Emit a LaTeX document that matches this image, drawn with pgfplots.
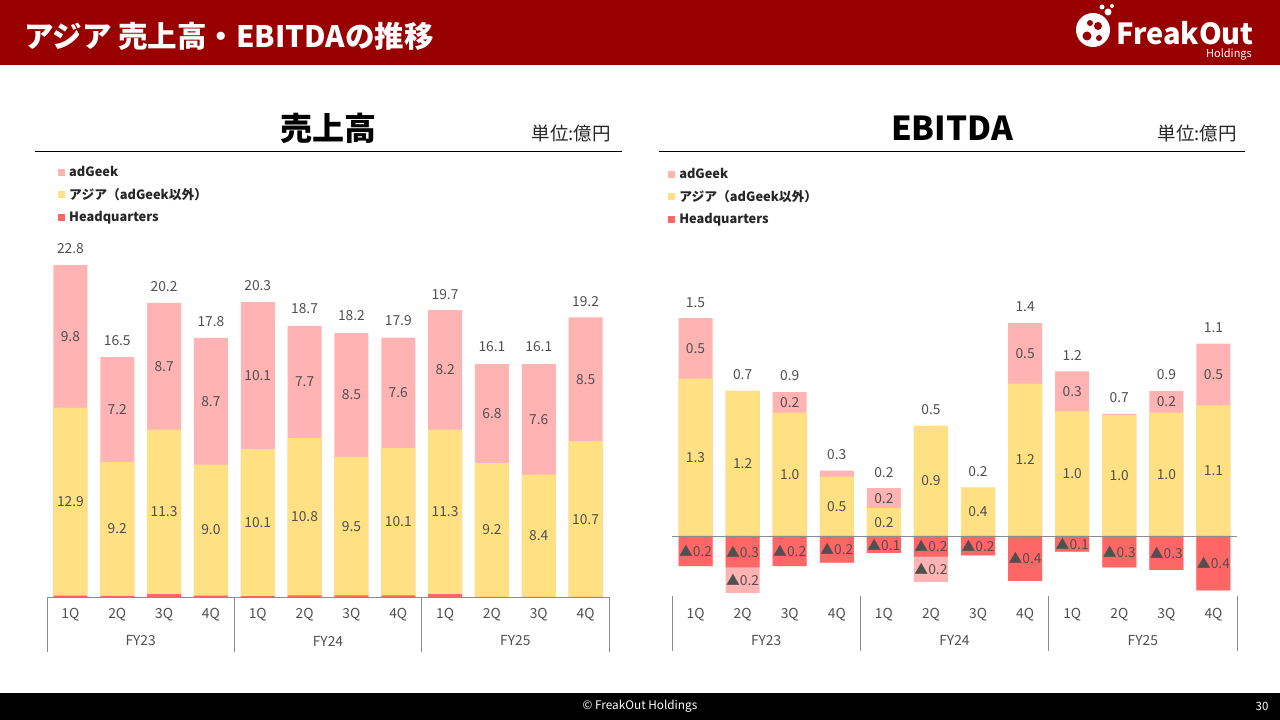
\documentclass[border=0pt]{standalone}
\usepackage{pgfplots}
\pgfplotsset{compat=1.18}
\usepackage{pgfplotstable}
\usepackage{fontspec}
\setmainfont{Noto Sans CJK JP}
\definecolor{hdr}{HTML}{990000}
\definecolor{cpink}{HTML}{FFB3B3}
\definecolor{cyel}{HTML}{FFE083}
\definecolor{cred}{HTML}{FF6666}
\definecolor{lbl}{HTML}{505050}
\definecolor{axg}{HTML}{8C8C8C}
\definecolor{lgt}{HTML}{262626}
\newcommand\lblfont{\fontsize{13.8}{16}\selectfont}

\pgfplotstableread[col sep=comma]{
x,hq,asia,adg,tot
0,0.10,12.9,9.8,22.8
1,0.08,9.2,7.2,16.5
2,0.20,11.3,8.7,20.2
3,0.10,9.0,8.7,17.8
4,0.06,10.1,10.1,20.3
5,0.12,10.8,7.7,18.7
6,0.12,9.5,8.5,18.2
7,0.12,10.1,7.6,17.9
8,0.20,11.3,8.2,19.7
9,0.00,9.2,6.8,16.1
10,0.00,8.4,7.6,16.1
11,0.00,10.7,8.5,19.2
}\sales

\pgfplotstableread[col sep=comma]{
x,asia,adg,hq,asiaL,adgL,hqL,totL
0,1.30,0.50,-0.25,1.3,0.5,▲0.2,1.5
1,1.20,-0.21,-0.26,1.2,▲0.2,▲0.3,0.7
2,1.02,0.17,-0.25,1.0,0.2,▲0.2,0.9
3,0.49,0.05,-0.22,0.5,,▲0.2,0.3
4,0.23,0.165,-0.14,0.2,0.2,▲0.1,0.2
5,0.91,-0.21,-0.17,0.9,▲0.2,▲0.2,0.5
6,0.40,0.00,-0.16,0.4,,▲0.2,0.2
7,1.26,0.50,-0.37,1.2,0.5,▲0.4,1.4
8,1.03,0.33,-0.13,1.0,0.3,▲0.1,1.2
9,1.00,0.01,-0.26,1.0,,▲0.3,0.7
10,1.02,0.18,-0.28,1.0,0.2,▲0.3,0.9
11,1.08,0.51,-0.45,1.1,0.5,▲0.4,1.1
}\ebitda

\pgfplotsset{
  segbar/.style={ybar, bar width=34pt, bar shift=0pt, draw=none, fill=#1,
    legend image code/.code={\fill[#1] (0pt,-3.5pt) rectangle (7pt,3.5pt);}},
  seglbl/.style={draw=none, mark=none, nodes near coords, point meta=explicit symbolic,
    every node near coord/.append style={anchor=center, font=\lblfont, text=lbl, inner sep=0pt}},
  chartbase/.style={
    scale only axis, clip=false,
    xmin=-0.5, xmax=11.5,
    axis line style={draw=none}, ytick=\empty,
    xtick={0,...,11},
    xticklabels={1Q,2Q,3Q,4Q,1Q,2Q,3Q,4Q,1Q,2Q,3Q,4Q},
    major tick length=0pt,
    xticklabel style={font=\lblfont, text=lbl, anchor=center, yshift=-18pt},
    legend cell align=left,
    legend style={draw=none, fill=none, anchor=north west,
      font=\bfseries\fontsize{12.8}{14}\selectfont, text=lgt,
      row sep=6.5pt, inner sep=0pt,
      /tikz/every odd column/.append style={column sep=2pt}},
  },
}

\begin{document}
\begin{tikzpicture}
\begin{scope}[x=1pt,y=1pt]
% background & frame
\fill[white] (0,0) rectangle (1280,720);
\fill[hdr] (0,655) rectangle (1280,720);
\node[anchor=west, text=white, font=\bfseries\fontsize{29.5}{32}\selectfont, inner sep=0pt] at (24,684) {アジア 売上高・EBITDAの推移};
% logo
\fill[white] (1093,690) circle (17);
\fill[hdr] (1087,684) circle (4.5);
\fill[hdr] (1098,694) circle (4);
\fill[hdr] (1090,697) circle (3);
\fill[hdr] (1099,682) circle (3);
\fill[white] (1108,708) circle (3.5);
\fill[white] (1102,713) circle (2.5);
\fill[white] (1112,714) circle (2);
\node[anchor=west, text=white, font=\bfseries\fontsize{29}{32}\selectfont, inner sep=0pt] at (1116,687) {FreakOut};
\node[anchor=east, text=white, font=\fontsize{11}{12}\selectfont, inner sep=0pt] at (1252,665) {Holdings};
% footer
\fill[black] (0,0) rectangle (1280,27);
\node[text=white, font=\fontsize{11.8}{13}\selectfont, inner sep=0pt] at (640,14) {© FreakOut Holdings};
\node[text=white, font=\fontsize{11.5}{13}\selectfont, inner sep=0pt] at (1262,14) {30};
% chart titles
\node[font=\bfseries\fontsize{32}{36}\selectfont, inner sep=0pt] at (328,592) {売上高};
\node[anchor=east, text=lgt, font=\fontsize{18.5}{21}\selectfont, inner sep=0pt] at (611,587) {単位:億円};
\draw[black, line width=1pt] (35,568) -- (622,568);
\node[font=\bfseries\fontsize{33}{36}\selectfont, inner sep=0pt] at (952,592) {EBITDA};
\node[anchor=east, text=lgt, font=\fontsize{18.5}{21}\selectfont, inner sep=0pt] at (1237,587) {単位:億円};
\draw[black, line width=1pt] (659,568) -- (1245,568);
\end{scope}

% ---------------- Sales ----------------
\begin{axis}[chartbase, at={(47pt,123pt)}, anchor=south west,
  width=562pt, height=436.8pt, ymin=0, ymax=30,
  legend style={at={(0.0196,0.991)}}]
\addplot[segbar=cpink] table[x=x, y expr=\thisrow{hq}+\thisrow{asia}+\thisrow{adg}] {\sales};
\addlegendentry{adGeek}
\addplot[segbar=cyel] table[x=x, y expr=\thisrow{hq}+\thisrow{asia}] {\sales};
\addlegendentry{アジア（adGeek以外）}
\addplot[segbar=cred] table[x=x, y=hq] {\sales};
\addlegendentry{Headquarters}
\addplot[seglbl, forget plot] table[x=x, y expr=\thisrow{hq}+\thisrow{asia}/2, meta=asia] {\sales};
\addplot[seglbl, forget plot] table[x=x, y expr=\thisrow{hq}+\thisrow{asia}+\thisrow{adg}/2, meta=adg] {\sales};
\addplot[seglbl, forget plot, every node near coord/.append style={yshift=16pt}] table[x=x, y=tot, meta=tot] {\sales};
\draw[axg] (axis cs:-0.5,0) -- (axis cs:11.5,0);
\pgfplotsinvokeforeach{-0.5,3.5,7.5,11.5}{\draw[axg] (axis cs:#1,0) -- ++(0pt,-55pt);}
\node[font=\lblfont, text=lbl] at ([yshift=-44pt]axis cs:1.5,0) {FY23};
\node[font=\lblfont, text=lbl] at ([yshift=-44pt]axis cs:5.5,0) {FY24};
\node[font=\lblfont, text=lbl] at ([yshift=-44pt]axis cs:9.5,0) {FY25};
\end{axis}

% ---------------- EBITDA ----------------
\begin{axis}[chartbase, at={(672pt,123.5pt)}, anchor=south west,
  width=565pt, height=435.6pt, ymin=-0.5, ymax=3.1,
  legend style={at={(-0.007,0.988)}}]
\addplot[segbar=cpink] table[x=x, y expr={\thisrow{asia}+max(\thisrow{adg},0)}] {\ebitda};
\addlegendentry{adGeek}
\addplot[segbar=cyel] table[x=x, y=asia] {\ebitda};
\addlegendentry{アジア（adGeek以外）}
\addplot[segbar=cpink, forget plot] table[x=x, y expr={\thisrow{hq}+min(\thisrow{adg},0)}] {\ebitda};
\addplot[segbar=cred] table[x=x, y=hq] {\ebitda};
\addlegendentry{Headquarters}
\addplot[seglbl, forget plot] table[x=x, y expr=\thisrow{asia}/2, meta=asiaL] {\ebitda};
\addplot[seglbl, forget plot] table[x=x, y expr={\thisrow{adg}>0 ? \thisrow{asia}+\thisrow{adg}/2 : \thisrow{hq}+\thisrow{adg}/2}, meta=adgL] {\ebitda};
\addplot[seglbl, forget plot] table[x=x, y expr=\thisrow{hq}/2, meta=hqL] {\ebitda};
\addplot[seglbl, forget plot, every node near coord/.append style={yshift=16pt}] table[x=x, y expr={\thisrow{asia}+max(\thisrow{adg},0)}, meta=totL] {\ebitda};
\draw[axg] (axis cs:-0.5,0) -- (axis cs:11.5,0);
\pgfplotsinvokeforeach{-0.5,3.5,7.5,11.5}{\draw[axg] (axis cs:#1,-0.5) -- ++(0pt,-55pt);}
\node[font=\lblfont, text=lbl] at ([yshift=-44pt]axis cs:1.5,-0.5) {FY23};
\node[font=\lblfont, text=lbl] at ([yshift=-44pt]axis cs:5.5,-0.5) {FY24};
\node[font=\lblfont, text=lbl] at ([yshift=-44pt]axis cs:9.5,-0.5) {FY25};
\end{axis}
\end{tikzpicture}
\end{document}
